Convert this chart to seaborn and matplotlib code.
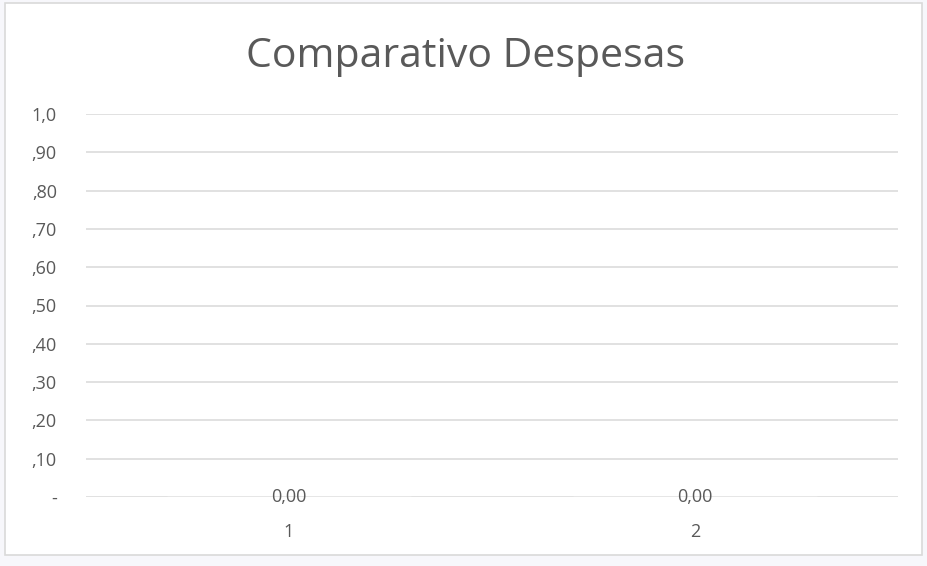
import matplotlib
matplotlib.use("Agg")
import matplotlib.pyplot as plt
import matplotlib.patches as mpatches
import seaborn as sns
import pandas as pd

# --- data ---
categorias = ["1", "2"]
valores = [0.0, 0.0]
y_ticks = [0.0, 0.1, 0.2, 0.3, 0.4, 0.5, 0.6, 0.7, 0.8, 0.9, 1.0]
y_tick_labels = ["-", ",10", ",20", ",30", ",40", ",50", ",60", ",70", ",80", ",90", "1,0"]
titulo = "Comparativo Despesas"

df = pd.DataFrame({"categoria": categorias, "valor": valores})

sns.set_style("white")
plt.rcParams["font.family"] = ["Open Sans", "DejaVu Sans"]

cinza_texto = "#595959"
cinza_linha = "#d9d9d9"

fig = plt.figure(figsize=(9.28, 5.66), dpi=100)
fig.patch.set_facecolor("#f7f7fb")

# white chart area with light border (Excel style), drawn behind the axes
W, H = 928, 566
fig.patches.append(mpatches.Rectangle((5 / W, 1 - 555 / H), (922 - 5) / W, (555 - 3) / H,
                                      transform=fig.transFigure, facecolor="white",
                                      edgecolor=cinza_linha, linewidth=1.2, zorder=-5))

ax = fig.add_axes([86 / W, 1 - 497 / H, (898 - 86) / W, (497 - 114) / H])
ax.set_facecolor("none")

sns.barplot(data=df, x="categoria", y="valor", color="#4472c4", width=0.6, ax=ax)

ax.set_xlim(-0.5, 1.5)
ax.set_ylim(0, 1.0)
ax.set_yticks(y_ticks)
ax.set_yticklabels(y_tick_labels, color=cinza_texto, fontsize=13)
ax.grid(axis="y", color=cinza_linha, linewidth=1.1)
ax.set_axisbelow(True)
for s in ax.spines.values():
    s.set_visible(False)
ax.tick_params(axis="y", length=0, pad=21)
ax.tick_params(axis="x", length=0, pad=19, labelcolor=cinza_texto, labelsize=13)
ax.set_xlabel("")
ax.set_ylabel("")

# data labels like "0,00"
for i, v in enumerate(valores):
    ax.text(i, v, f"{v:.2f}".replace(".", ","), ha="center", va="center",
            color=cinza_texto, fontsize=13)

fig.text(466 / W, 1 - 57 / H, titulo, ha="center", va="center",
         color=cinza_texto, fontsize=29.5)

fig.savefig("out.png", dpi=100)
